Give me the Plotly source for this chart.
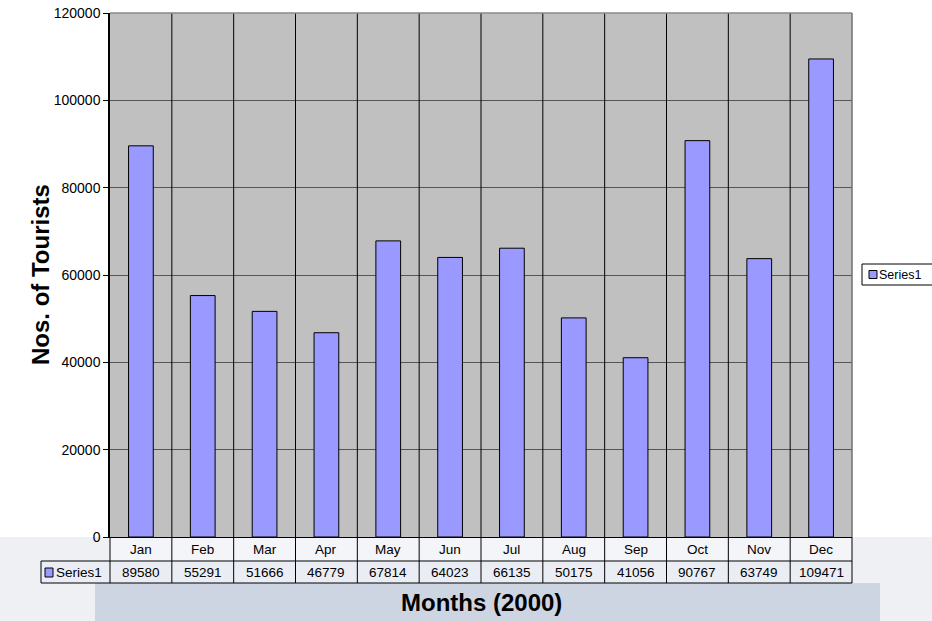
import plotly.graph_objects as go

months = ["Jan", "Feb", "Mar", "Apr", "May", "Jun", "Jul", "Aug", "Sep", "Oct", "Nov", "Dec"]
tourists = [89580, 55291, 51666, 46779, 67814, 64023, 66135, 50175, 41056, 90767, 63749, 109471]
series_name = "Series1"
y_ticks = [0, 20000, 40000, 60000, 80000, 100000, 120000]

W, H = 932, 621
L, R, T, B = 110, 852, 13, 537
FONT = "Liberation Sans, Arial, sans-serif"
BAR = "#9999FF"


def px_x(px):
    return (px - L) / (R - L)


def px_y(py):
    return (B - py) / (B - T)


n = len(months)
fig = go.Figure()
fig.add_trace(go.Bar(
    x=months, y=tourists, name=series_name,
    marker=dict(color=BAR, line=dict(color="black", width=1)),
    showlegend=False,
))

shapes = []
annotations = []


def note(text, x, y, xref="paper", yref="paper", size=13.5, xanchor="center", angle=0):
    annotations.append(dict(x=x, y=y, xref=xref, yref=yref, text=text, showarrow=False,
                            xanchor=xanchor, yanchor="middle", textangle=angle,
                            font=dict(family=FONT, size=size, color="black")))


# background band (image-like) at bottom
shapes.append(dict(type="rect", xref="paper", yref="paper", layer="below",
                   x0=px_x(0), x1=px_x(W), y0=px_y(B), y1=px_y(H),
                   fillcolor="#EEF0F4", line=dict(width=0)))
shapes.append(dict(type="rect", xref="paper", yref="paper", layer="below",
                   x0=px_x(95), x1=px_x(880), y0=px_y(583), y1=px_y(H),
                   fillcolor="#CDD5E3", line=dict(width=0)))

# table geometry
row1_top, row1_bot, row2_bot = px_y(537), px_y(561), px_y(583)
label_left = px_x(41)

# table cell fills
shapes.append(dict(type="rect", xref="paper", yref="paper", layer="below",
                   x0=0, x1=1, y0=row1_bot, y1=row1_top,
                   fillcolor="#F3F5F8", line=dict(width=0)))
shapes.append(dict(type="rect", xref="paper", yref="paper", layer="below",
                   x0=label_left, x1=1, y0=row2_bot, y1=row1_bot,
                   fillcolor="#EAEEF4", line=dict(width=0)))

# vertical grid lines through plot and table
for i in range(1, n):
    shapes.append(dict(type="line", xref="paper", yref="paper",
                       x0=i / n, x1=i / n, y0=row2_bot, y1=1,
                       line=dict(color="black", width=1)))
for xv in (0, 1):
    shapes.append(dict(type="line", xref="paper", yref="paper",
                       x0=xv, x1=xv, y0=row2_bot, y1=row1_top,
                       line=dict(color="black", width=1)))
# horizontal table lines
for yv in (row1_bot, row2_bot):
    shapes.append(dict(type="line", xref="paper", yref="paper",
                       x0=label_left, x1=1, y0=yv, y1=yv,
                       line=dict(color="black", width=1)))
shapes.append(dict(type="line", xref="paper", yref="paper",
                   x0=label_left, x1=label_left, y0=row2_bot, y1=row1_bot,
                   line=dict(color="black", width=1)))

# plot area border (top/right gray)
shapes.append(dict(type="line", xref="paper", yref="paper",
                   x0=0, x1=1, y0=1, y1=1, line=dict(color="#8A8A8A", width=1.5)))
shapes.append(dict(type="line", xref="paper", yref="paper",
                   x0=1, x1=1, y0=0, y1=1, line=dict(color="#707070", width=1.5)))

# table texts
for m, v in zip(months, tourists):
    note(m, m, (row1_top + row1_bot) / 2, xref="x")
    note(str(v), m, (row1_bot + row2_bot) / 2, xref="x")

# legend key in table
shapes.append(dict(type="rect", xref="paper", yref="paper",
                   x0=px_x(45), x1=px_x(53), y0=px_y(577), y1=px_y(568),
                   fillcolor=BAR, line=dict(color="black", width=1)))
note(series_name, px_x(54), (row1_bot + row2_bot) / 2, xanchor="left")

# legend box on right
shapes.append(dict(type="rect", xref="paper", yref="paper",
                   x0=px_x(862), x1=px_x(945), y0=px_y(285), y1=px_y(264),
                   fillcolor="white", line=dict(color="black", width=1)))
shapes.append(dict(type="rect", xref="paper", yref="paper",
                   x0=px_x(869), x1=px_x(877), y0=px_y(278.5), y1=px_y(270.5),
                   fillcolor=BAR, line=dict(color="black", width=1)))
note(series_name, px_x(877), px_y(274.5), size=12.5, xanchor="left")

# axis titles
note("<b>Nos. of Tourists</b>", px_x(40), 0.5, size=24, angle=-90)
note("<b>Months (2000)</b>", 0.5, px_y(602), size=24)

fig.update_layout(
    width=W, height=H,
    margin=dict(l=L, r=W - R, t=T, b=H - B, pad=0, autoexpand=False),
    paper_bgcolor="white",
    plot_bgcolor="#C0C0C0",
    bargap=0.6,
    showlegend=False,
    shapes=shapes,
    annotations=annotations,
    font=dict(family=FONT, color="black"),
)
fig.update_xaxes(showticklabels=False, showgrid=False, ticks="",
                 showline=True, linecolor="black", linewidth=1, automargin=False,
                 range=[-0.5, n - 0.5], fixedrange=True)
fig.update_yaxes(range=[0, 120000], tickvals=y_ticks, tickformat="d", automargin=False,
                 showgrid=True, gridcolor="#555555", gridwidth=1,
                 zeroline=False, showline=True, linecolor="black", linewidth=1.5,
                 ticks="outside", ticklen=5, tickcolor="black",
                 tickfont=dict(family=FONT, size=14, color="black"),
                 fixedrange=True)

fig.write_html("out.html", config={"displayModeBar": False},
               post_script="document.body.style.margin='0';document.body.style.overflow='hidden';")
